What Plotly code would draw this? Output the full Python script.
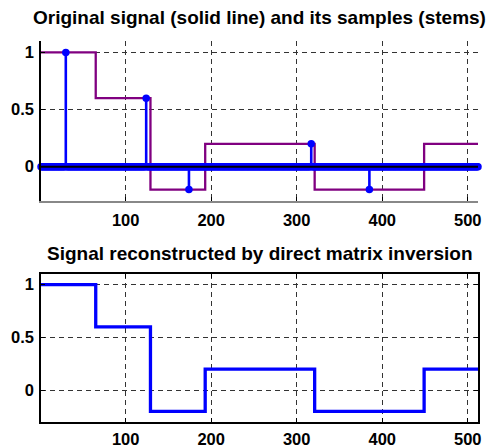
import numpy as np
import plotly.graph_objects as go

# ---- data ----
N = 512
seg_starts = [1, 65, 129, 193, 321, 449]
seg_levels = [1.0, 0.6, -0.2, 0.2, -0.2, 0.2]
sample_idx = [30, 124, 174, 317, 385]
sample_vals = [1.0, 0.6, -0.2, 0.2, -0.2]
recon_starts = [1, 65, 129, 193, 321, 449]
recon_levels = [1.0, 0.6, -0.2, 0.2, -0.2, 0.2]
x_ticks = [100, 200, 300, 400, 500]
y_ticks = [0, 0.5, 1]

title_top = "Original signal (solid line) and its samples (stems)"
title_bot = "Signal reconstructed by direct matrix inversion"

# ---- build ----
n = np.arange(1, N + 1)
sig_x = seg_starts + [N]
sig_y = seg_levels + [seg_levels[-1]]
rec_x = recon_starts + [N]
rec_y = recon_levels + [recon_levels[-1]]

samples = np.zeros(N)
for i, v in zip(sample_idx, sample_vals):
    samples[i - 1] = v

stem_x, stem_y = [], []
for xi, yi in zip(n, samples):
    if yi != 0:
        stem_x += [xi, xi, None]
        stem_y += [0, yi, None]

BLUE = "#0000FF"
PURPLE = "#800080"
FONT = "Liberation Sans, Arial, sans-serif"

fig = go.Figure()
fig.add_trace(go.Scatter(x=sig_x, y=sig_y, mode="lines", line=dict(color=PURPLE, width=2.3, shape="hv"),
                         xaxis="x", yaxis="y", showlegend=False))
fig.add_trace(go.Scatter(x=stem_x, y=stem_y, mode="lines", line=dict(color=BLUE, width=2.6),
                         xaxis="x", yaxis="y", showlegend=False))
fig.add_trace(go.Scatter(x=n, y=samples, mode="markers", marker=dict(color=BLUE, size=7.5),
                         cliponaxis=False, xaxis="x", yaxis="y", showlegend=False))
fig.add_trace(go.Scatter(x=[1, N], y=[0, 0], mode="lines", line=dict(color="black", width=2),
                         xaxis="x", yaxis="y", showlegend=False))
fig.add_trace(go.Scatter(x=rec_x, y=rec_y, mode="lines", line=dict(color=BLUE, width=3.3, shape="hv"),
                         xaxis="x2", yaxis="y2", showlegend=False))

L, R, T, B = 41, 11, 41, 26
H = 448
ph = H - T - B
top_dom = [(H - B - 201) / ph, 1.0]
bot_dom = [0.0, (H - B - 274) / ph]

axfont = dict(family=FONT, size=16.5, color="black", weight="bold")
grid = dict(showgrid=True, gridcolor="#333333", griddash="5px,4px", gridwidth=1)
xcommon = dict(range=[1, N], tickvals=x_ticks, ticks="inside", ticklen=4, tickcolor="black",
               zeroline=False, tickfont=axfont, automargin=False, **grid)
ycommon = dict(range=[-0.3, 1.1], tickvals=y_ticks, ticks="inside", ticklen=4, tickcolor="black",
               zeroline=False, tickfont=axfont, ticklabelstandoff=2, automargin=False, **grid)

fig.update_layout(
    width=489, height=448,
    margin=dict(l=L, r=R, t=T, b=B, autoexpand=False),
    plot_bgcolor="white", paper_bgcolor="white",
    font=dict(family=FONT, color="black"),
    xaxis=dict(domain=[0, 1], anchor="y", showline=True, linecolor="#888888", linewidth=2,
               mirror=False, ticklabelstandoff=3, **xcommon),
    yaxis=dict(domain=top_dom, anchor="x", showline=True, linecolor="black", linewidth=1.5,
               mirror=False, **ycommon),
    xaxis2=dict(domain=[0, 1], anchor="y2", showline=True, linecolor="black", linewidth=1.5,
                mirror="ticks", ticklabelstandoff=1, **xcommon),
    yaxis2=dict(domain=bot_dom, anchor="x2", showline=True, linecolor="black", linewidth=1.5,
                mirror="ticks", **ycommon),
    annotations=[
        dict(text=title_top, xref="paper", yref="paper", x=0.5, y=1 + 23 / ph, xanchor="center",
             yanchor="middle", showarrow=False, font=dict(family=FONT, size=19, weight="bold")),
        dict(text=title_bot, xref="paper", yref="paper", x=0.5, y=(H - B - 253) / ph, xanchor="center",
             yanchor="middle", showarrow=False, font=dict(family=FONT, size=19, weight="bold")),
    ],
)

fig.write_html("out.html")
